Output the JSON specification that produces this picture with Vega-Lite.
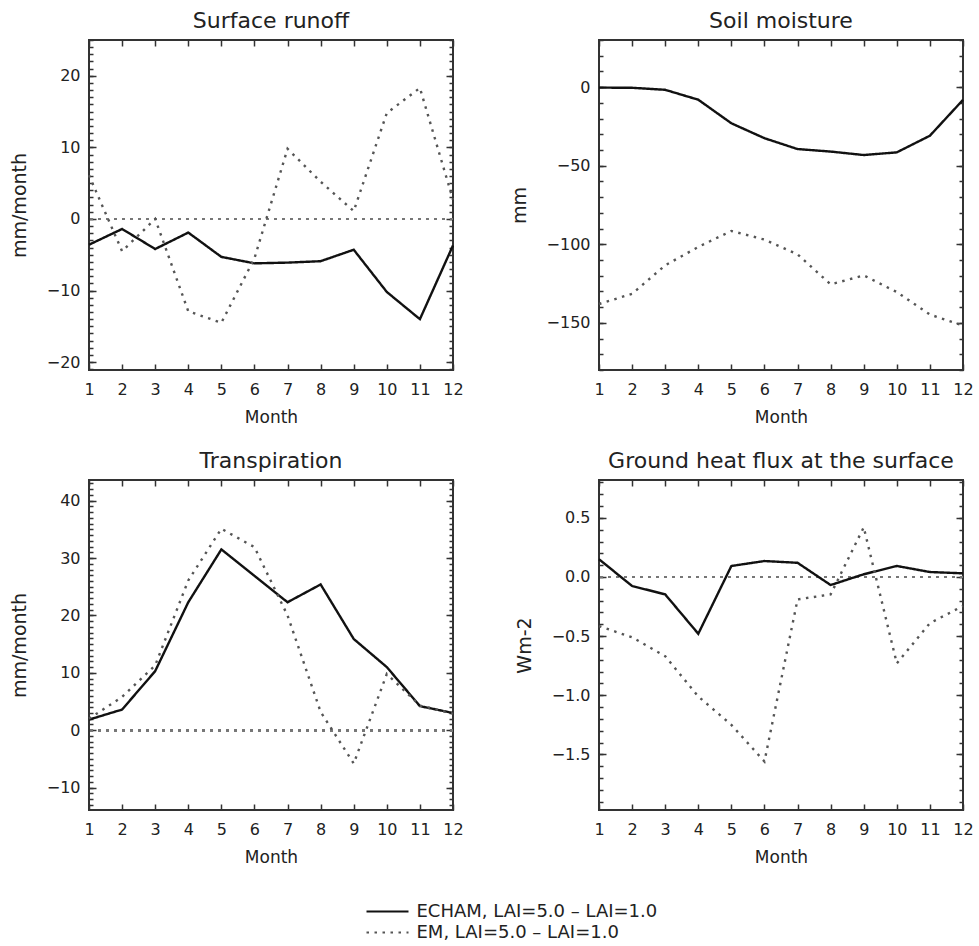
{
"$schema":"https://vega.github.io/schema/vega-lite/v6.json",
"padding":{"left":9,"top":9,"right":5,"bottom":5},
"data":{"values":[
{"p":"a","m":1,"s":"ECHAM","v":-3.6},{"p":"a","m":2,"s":"ECHAM","v":-1.4},{"p":"a","m":3,"s":"ECHAM","v":-4.2},{"p":"a","m":4,"s":"ECHAM","v":-1.9},{"p":"a","m":5,"s":"ECHAM","v":-5.3},{"p":"a","m":6,"s":"ECHAM","v":-6.2},{"p":"a","m":7,"s":"ECHAM","v":-6.1},{"p":"a","m":8,"s":"ECHAM","v":-5.9},{"p":"a","m":9,"s":"ECHAM","v":-4.3},{"p":"a","m":10,"s":"ECHAM","v":-10.2},{"p":"a","m":11,"s":"ECHAM","v":-14.0},{"p":"a","m":12,"s":"ECHAM","v":-3.7},
{"p":"a","m":1,"s":"EM","v":6.1},{"p":"a","m":2,"s":"EM","v":-4.5},{"p":"a","m":3,"s":"EM","v":0.0},{"p":"a","m":4,"s":"EM","v":-12.9},{"p":"a","m":5,"s":"EM","v":-14.5},{"p":"a","m":6,"s":"EM","v":-5.5},{"p":"a","m":7,"s":"EM","v":9.8},{"p":"a","m":8,"s":"EM","v":5.2},{"p":"a","m":9,"s":"EM","v":1.1},{"p":"a","m":10,"s":"EM","v":14.8},{"p":"a","m":11,"s":"EM","v":18.3},{"p":"a","m":12,"s":"EM","v":2.7},
{"p":"b","m":1,"s":"ECHAM","v":-0.3},{"p":"b","m":2,"s":"ECHAM","v":-0.4},{"p":"b","m":3,"s":"ECHAM","v":-1.7},{"p":"b","m":4,"s":"ECHAM","v":-8},{"p":"b","m":5,"s":"ECHAM","v":-23},{"p":"b","m":6,"s":"ECHAM","v":-32.5},{"p":"b","m":7,"s":"ECHAM","v":-39.4},{"p":"b","m":8,"s":"ECHAM","v":-41},{"p":"b","m":9,"s":"ECHAM","v":-43.2},{"p":"b","m":10,"s":"ECHAM","v":-41.5},{"p":"b","m":11,"s":"ECHAM","v":-30.9},{"p":"b","m":12,"s":"ECHAM","v":-8.1},
{"p":"b","m":1,"s":"EM","v":-138},{"p":"b","m":2,"s":"EM","v":-131.5},{"p":"b","m":3,"s":"EM","v":-113.4},{"p":"b","m":4,"s":"EM","v":-101.7},{"p":"b","m":5,"s":"EM","v":-91.5},{"p":"b","m":6,"s":"EM","v":-97},{"p":"b","m":7,"s":"EM","v":-106.4},{"p":"b","m":8,"s":"EM","v":-125.5},{"p":"b","m":9,"s":"EM","v":-119.8},{"p":"b","m":10,"s":"EM","v":-130.4},{"p":"b","m":11,"s":"EM","v":-144.7},{"p":"b","m":12,"s":"EM","v":-151.7},
{"p":"c","m":1,"s":"ECHAM","v":1.85},{"p":"c","m":2,"s":"ECHAM","v":3.6},{"p":"c","m":3,"s":"ECHAM","v":10.3},{"p":"c","m":4,"s":"ECHAM","v":22.3},{"p":"c","m":5,"s":"ECHAM","v":31.5},{"p":"c","m":6,"s":"ECHAM","v":26.9},{"p":"c","m":7,"s":"ECHAM","v":22.3},{"p":"c","m":8,"s":"ECHAM","v":25.4},{"p":"c","m":9,"s":"ECHAM","v":15.9},{"p":"c","m":10,"s":"ECHAM","v":11.0},{"p":"c","m":11,"s":"ECHAM","v":4.2},{"p":"c","m":12,"s":"ECHAM","v":3.0},
{"p":"c","m":1,"s":"EM","v":2.0},{"p":"c","m":2,"s":"EM","v":5.8},{"p":"c","m":3,"s":"EM","v":11.3},{"p":"c","m":4,"s":"EM","v":26.1},{"p":"c","m":5,"s":"EM","v":35.1},{"p":"c","m":6,"s":"EM","v":31.9},{"p":"c","m":7,"s":"EM","v":20.0},{"p":"c","m":8,"s":"EM","v":3.2},{"p":"c","m":9,"s":"EM","v":-5.8},{"p":"c","m":10,"s":"EM","v":9.8},{"p":"c","m":11,"s":"EM","v":4.3},{"p":"c","m":12,"s":"EM","v":2.9},
{"p":"d","m":1,"s":"ECHAM","v":0.15},{"p":"d","m":2,"s":"ECHAM","v":-0.076},{"p":"d","m":3,"s":"ECHAM","v":-0.147},{"p":"d","m":4,"s":"ECHAM","v":-0.48},{"p":"d","m":5,"s":"ECHAM","v":0.093},{"p":"d","m":6,"s":"ECHAM","v":0.135},{"p":"d","m":7,"s":"ECHAM","v":0.12},{"p":"d","m":8,"s":"ECHAM","v":-0.068},{"p":"d","m":9,"s":"ECHAM","v":0.023},{"p":"d","m":10,"s":"ECHAM","v":0.093},{"p":"d","m":11,"s":"ECHAM","v":0.042},{"p":"d","m":12,"s":"ECHAM","v":0.031},
{"p":"d","m":1,"s":"EM","v":-0.415},{"p":"d","m":2,"s":"EM","v":-0.51},{"p":"d","m":3,"s":"EM","v":-0.67},{"p":"d","m":4,"s":"EM","v":-1.01},{"p":"d","m":5,"s":"EM","v":-1.25},{"p":"d","m":6,"s":"EM","v":-1.56},{"p":"d","m":7,"s":"EM","v":-0.19},{"p":"d","m":8,"s":"EM","v":-0.147},{"p":"d","m":9,"s":"EM","v":0.42},{"p":"d","m":10,"s":"EM","v":-0.73},{"p":"d","m":11,"s":"EM","v":-0.39},{"p":"d","m":12,"s":"EM","v":-0.245}
]},
"columns":2,
"spacing":{"row":110,"column":146},
"bounds":"flush",
"concat":[
{
"width":364,"height":330,
"title":"Surface runoff",
"transform":[{"filter":"datum.p==='a'"}],
"layer":[
{"mark":{"type":"rule","color":"#777","strokeDash":[2.5,5.5],"strokeWidth":2},
 "encoding":{"y":{"datum":0,"type":"quantitative","scale":{"domain":[-21.1,25],"nice":false,"zero":false},"axis":null}}},
{"mark":{"type":"line","strokeWidth":2.4},
 "encoding":{
  "x":{"field":"m","type":"quantitative","scale":{"domain":[1,12],"nice":false},"axis":{"orient":"bottom","values":[1,2,3,4,5,6,7,8,9,10,11,12],"format":"d","ticks":false,"labelPadding":11,"title":"Month","titleFontSize":17,"titlePadding":12}},
  "y":{"field":"v","type":"quantitative","scale":{"domain":[-21.1,25],"nice":false,"zero":false},"axis":{"orient":"left","values":[-20,-10,0,10,20],"format":"d","ticks":false,"labelPadding":9,"title":"mm/month","titleFontSize":19,"titlePadding":17}},
  "color":{"field":"s","type":"nominal","title":null,"scale":{"domain":["ECHAM","EM"],"range":["#111111","#555555"]},"legend":{"orient":"none","legendX":287,"legendY":860,"symbolType":"M-2,0H2","symbolSize":441,"symbolStrokeWidth":2,"labelFontSize":18,"labelOffset":17.5,"labelLimit":0,"labelExpr":"datum.label + ', LAI=5.0 – LAI=1.0'","padding":0,"rowPadding":-1,"labelColor":"#222"}},
  "strokeDash":{"field":"s","type":"nominal","title":null,"scale":{"domain":["ECHAM","EM"],"range":[[1,0],[2.5,5.5]]},"legend":{"orient":"none","legendX":287,"legendY":860,"symbolType":"M-2,0H2","symbolSize":441,"symbolStrokeWidth":2,"labelFontSize":18,"labelOffset":17.5,"labelLimit":0,"labelExpr":"datum.label + ', LAI=5.0 – LAI=1.0'","padding":0,"rowPadding":-1,"labelColor":"#222"}}
 }},
{"mark":{"type":"point","opacity":0},
 "encoding":{
  "x":{"field":"m","type":"quantitative","scale":{"domain":[1,12],"nice":false},"axis":{"orient":"top","values":[1,2,3,4,5,6,7,8,9,10,11,12],"offset":-6,"tickSize":6,"labels":false,"title":null}},
  "y":{"field":"v","type":"quantitative","scale":{"domain":[-21.1,25],"nice":false,"zero":false},"axis":{"orient":"right","values":[-20,-10,0,10,20],"offset":-7,"tickSize":7,"labels":false,"title":null}}
 }},
{"mark":{"type":"point","opacity":0},
 "encoding":{
  "x":{"field":"m","type":"quantitative","scale":{"domain":[1,12],"nice":false},"axis":{"orient":"bottom","values":[1,2,3,4,5,6,7,8,9,10,11,12],"offset":-6,"tickSize":6,"labels":false,"title":null}},
  "y":{"field":"v","type":"quantitative","scale":{"domain":[-21.1,25],"nice":false,"zero":false},"axis":{"orient":"left","values":[-21,-20,-19,-18,-17,-16,-15,-14,-13,-12,-11,-10,-9,-8,-7,-6,-5,-4,-3,-2,-1,0,1,2,3,4,5,6,7,8,9,10,11,12,13,14,15,16,17,18,19,20,21,22,23,24,25],"offset":-4,"tickSize":4,"labels":false,"title":null}}
 }},
{"mark":{"type":"point","opacity":0},
 "encoding":{
  "x":{"field":"m","type":"quantitative","scale":{"domain":[1,12],"nice":false},"axis":null},
  "y":{"field":"v","type":"quantitative","scale":{"domain":[-21.1,25],"nice":false,"zero":false},"axis":{"orient":"right","values":[-21,-20,-19,-18,-17,-16,-15,-14,-13,-12,-11,-10,-9,-8,-7,-6,-5,-4,-3,-2,-1,0,1,2,3,4,5,6,7,8,9,10,11,12,13,14,15,16,17,18,19,20,21,22,23,24,25],"offset":-4,"tickSize":4,"labels":false,"title":null}}
 }},
{"mark":{"type":"point","opacity":0},
 "encoding":{
  "x":{"field":"m","type":"quantitative","scale":{"domain":[1,12],"nice":false},"axis":null},
  "y":{"field":"v","type":"quantitative","scale":{"domain":[-21.1,25],"nice":false,"zero":false},"axis":{"orient":"left","values":[-20,-10,0,10,20],"offset":-7,"tickSize":7,"labels":false,"title":null}}
 }}
],
"resolve":{"axis":{"x":"independent","y":"independent"}}
},
{
"width":364,"height":330,
"title":"Soil moisture",
"transform":[{"filter":"datum.p==='b'"}],
"layer":[
{"mark":{"type":"line","strokeWidth":2.4},
 "encoding":{
  "x":{"field":"m","type":"quantitative","scale":{"domain":[1,12],"nice":false},"axis":{"orient":"bottom","values":[1,2,3,4,5,6,7,8,9,10,11,12],"format":"d","ticks":false,"labelPadding":11,"title":"Month","titleFontSize":17,"titlePadding":12}},
  "y":{"field":"v","type":"quantitative","scale":{"domain":[-180,30],"nice":false,"zero":false},"axis":{"orient":"left","values":[-150,-100,-50,0],"format":"d","ticks":false,"labelPadding":9,"title":"mm","titleFontSize":19,"titlePadding":17}},
  "color":{"field":"s","type":"nominal","title":null,"scale":{"domain":["ECHAM","EM"],"range":["#111111","#555555"]},"legend":{"orient":"none","legendX":287,"legendY":860,"symbolType":"M-2,0H2","symbolSize":441,"symbolStrokeWidth":2,"labelFontSize":18,"labelOffset":17.5,"labelLimit":0,"labelExpr":"datum.label + ', LAI=5.0 – LAI=1.0'","padding":0,"rowPadding":-1,"labelColor":"#222"}},
  "strokeDash":{"field":"s","type":"nominal","title":null,"scale":{"domain":["ECHAM","EM"],"range":[[1,0],[2.5,5.5]]},"legend":{"orient":"none","legendX":287,"legendY":860,"symbolType":"M-2,0H2","symbolSize":441,"symbolStrokeWidth":2,"labelFontSize":18,"labelOffset":17.5,"labelLimit":0,"labelExpr":"datum.label + ', LAI=5.0 – LAI=1.0'","padding":0,"rowPadding":-1,"labelColor":"#222"}}
 }},
{"mark":{"type":"point","opacity":0},
 "encoding":{
  "x":{"field":"m","type":"quantitative","scale":{"domain":[1,12],"nice":false},"axis":{"orient":"top","values":[1,2,3,4,5,6,7,8,9,10,11,12],"offset":-6,"tickSize":6,"labels":false,"title":null}},
  "y":{"field":"v","type":"quantitative","scale":{"domain":[-180,30],"nice":false,"zero":false},"axis":{"orient":"right","values":[-150,-100,-50,0],"offset":-7,"tickSize":7,"labels":false,"title":null}}
 }},
{"mark":{"type":"point","opacity":0},
 "encoding":{
  "x":{"field":"m","type":"quantitative","scale":{"domain":[1,12],"nice":false},"axis":{"orient":"bottom","values":[1,2,3,4,5,6,7,8,9,10,11,12],"offset":-6,"tickSize":6,"labels":false,"title":null}},
  "y":{"field":"v","type":"quantitative","scale":{"domain":[-180,30],"nice":false,"zero":false},"axis":{"orient":"left","values":[-180,-170,-160,-150,-140,-130,-120,-110,-100,-90,-80,-70,-60,-50,-40,-30,-20,-10,0,10,20,30],"offset":-4,"tickSize":4,"labels":false,"title":null}}
 }},
{"mark":{"type":"point","opacity":0},
 "encoding":{
  "x":{"field":"m","type":"quantitative","scale":{"domain":[1,12],"nice":false},"axis":null},
  "y":{"field":"v","type":"quantitative","scale":{"domain":[-180,30],"nice":false,"zero":false},"axis":{"orient":"right","values":[-180,-170,-160,-150,-140,-130,-120,-110,-100,-90,-80,-70,-60,-50,-40,-30,-20,-10,0,10,20,30],"offset":-4,"tickSize":4,"labels":false,"title":null}}
 }},
{"mark":{"type":"point","opacity":0},
 "encoding":{
  "x":{"field":"m","type":"quantitative","scale":{"domain":[1,12],"nice":false},"axis":null},
  "y":{"field":"v","type":"quantitative","scale":{"domain":[-180,30],"nice":false,"zero":false},"axis":{"orient":"left","values":[-150,-100,-50,0],"offset":-7,"tickSize":7,"labels":false,"title":null}}
 }}
],
"resolve":{"axis":{"x":"independent","y":"independent"}}
},
{
"width":364,"height":330,
"title":"Transpiration",
"transform":[{"filter":"datum.p==='c'"}],
"layer":[
{"mark":{"type":"rule","color":"#777","strokeDash":[2.5,5.5],"strokeWidth":2},
 "encoding":{"y":{"datum":0,"type":"quantitative","scale":{"domain":[-13.9,43.6],"nice":false,"zero":false},"axis":null}}},
{"mark":{"type":"line","strokeWidth":2.4},
 "encoding":{
  "x":{"field":"m","type":"quantitative","scale":{"domain":[1,12],"nice":false},"axis":{"orient":"bottom","values":[1,2,3,4,5,6,7,8,9,10,11,12],"format":"d","ticks":false,"labelPadding":11,"title":"Month","titleFontSize":17,"titlePadding":12}},
  "y":{"field":"v","type":"quantitative","scale":{"domain":[-13.9,43.6],"nice":false,"zero":false},"axis":{"orient":"left","values":[-10,0,10,20,30,40],"format":"d","ticks":false,"labelPadding":9,"title":"mm/month","titleFontSize":19,"titlePadding":17}},
  "color":{"field":"s","type":"nominal","title":null,"scale":{"domain":["ECHAM","EM"],"range":["#111111","#555555"]},"legend":{"orient":"none","legendX":287,"legendY":860,"symbolType":"M-2,0H2","symbolSize":441,"symbolStrokeWidth":2,"labelFontSize":18,"labelOffset":17.5,"labelLimit":0,"labelExpr":"datum.label + ', LAI=5.0 – LAI=1.0'","padding":0,"rowPadding":-1,"labelColor":"#222"}},
  "strokeDash":{"field":"s","type":"nominal","title":null,"scale":{"domain":["ECHAM","EM"],"range":[[1,0],[2.5,5.5]]},"legend":{"orient":"none","legendX":287,"legendY":860,"symbolType":"M-2,0H2","symbolSize":441,"symbolStrokeWidth":2,"labelFontSize":18,"labelOffset":17.5,"labelLimit":0,"labelExpr":"datum.label + ', LAI=5.0 – LAI=1.0'","padding":0,"rowPadding":-1,"labelColor":"#222"}}
 }},
{"mark":{"type":"point","opacity":0},
 "encoding":{
  "x":{"field":"m","type":"quantitative","scale":{"domain":[1,12],"nice":false},"axis":{"orient":"top","values":[1,2,3,4,5,6,7,8,9,10,11,12],"offset":-6,"tickSize":6,"labels":false,"title":null}},
  "y":{"field":"v","type":"quantitative","scale":{"domain":[-13.9,43.6],"nice":false,"zero":false},"axis":{"orient":"right","values":[-10,0,10,20,30,40],"offset":-7,"tickSize":7,"labels":false,"title":null}}
 }},
{"mark":{"type":"point","opacity":0},
 "encoding":{
  "x":{"field":"m","type":"quantitative","scale":{"domain":[1,12],"nice":false},"axis":{"orient":"bottom","values":[1,2,3,4,5,6,7,8,9,10,11,12],"offset":-6,"tickSize":6,"labels":false,"title":null}},
  "y":{"field":"v","type":"quantitative","scale":{"domain":[-13.9,43.6],"nice":false,"zero":false},"axis":{"orient":"left","values":[-13,-12,-11,-10,-9,-8,-7,-6,-5,-4,-3,-2,-1,0,1,2,3,4,5,6,7,8,9,10,11,12,13,14,15,16,17,18,19,20,21,22,23,24,25,26,27,28,29,30,31,32,33,34,35,36,37,38,39,40,41,42,43],"offset":-4,"tickSize":4,"labels":false,"title":null}}
 }},
{"mark":{"type":"point","opacity":0},
 "encoding":{
  "x":{"field":"m","type":"quantitative","scale":{"domain":[1,12],"nice":false},"axis":null},
  "y":{"field":"v","type":"quantitative","scale":{"domain":[-13.9,43.6],"nice":false,"zero":false},"axis":{"orient":"right","values":[-13,-12,-11,-10,-9,-8,-7,-6,-5,-4,-3,-2,-1,0,1,2,3,4,5,6,7,8,9,10,11,12,13,14,15,16,17,18,19,20,21,22,23,24,25,26,27,28,29,30,31,32,33,34,35,36,37,38,39,40,41,42,43],"offset":-4,"tickSize":4,"labels":false,"title":null}}
 }},
{"mark":{"type":"point","opacity":0},
 "encoding":{
  "x":{"field":"m","type":"quantitative","scale":{"domain":[1,12],"nice":false},"axis":null},
  "y":{"field":"v","type":"quantitative","scale":{"domain":[-13.9,43.6],"nice":false,"zero":false},"axis":{"orient":"left","values":[-10,0,10,20,30,40],"offset":-7,"tickSize":7,"labels":false,"title":null}}
 }}
],
"resolve":{"axis":{"x":"independent","y":"independent"}}
},
{
"width":364,"height":330,
"title":"Ground heat flux at the surface",
"transform":[{"filter":"datum.p==='d'"}],
"layer":[
{"mark":{"type":"rule","color":"#777","strokeDash":[2.5,5.5],"strokeWidth":2},
 "encoding":{"y":{"datum":0,"type":"quantitative","scale":{"domain":[-1.97,0.82],"nice":false,"zero":false},"axis":null}}},
{"mark":{"type":"line","strokeWidth":2.4},
 "encoding":{
  "x":{"field":"m","type":"quantitative","scale":{"domain":[1,12],"nice":false},"axis":{"orient":"bottom","values":[1,2,3,4,5,6,7,8,9,10,11,12],"format":"d","ticks":false,"labelPadding":11,"title":"Month","titleFontSize":17,"titlePadding":12}},
  "y":{"field":"v","type":"quantitative","scale":{"domain":[-1.97,0.82],"nice":false,"zero":false},"axis":{"orient":"left","values":[-1.5,-1,-0.5,0,0.5],"format":".1f","ticks":false,"labelPadding":9,"title":"Wm-2","titleFontSize":19,"titlePadding":17}},
  "color":{"field":"s","type":"nominal","title":null,"scale":{"domain":["ECHAM","EM"],"range":["#111111","#555555"]},"legend":{"orient":"none","legendX":287,"legendY":860,"symbolType":"M-2,0H2","symbolSize":441,"symbolStrokeWidth":2,"labelFontSize":18,"labelOffset":17.5,"labelLimit":0,"labelExpr":"datum.label + ', LAI=5.0 – LAI=1.0'","padding":0,"rowPadding":-1,"labelColor":"#222"}},
  "strokeDash":{"field":"s","type":"nominal","title":null,"scale":{"domain":["ECHAM","EM"],"range":[[1,0],[2.5,5.5]]},"legend":{"orient":"none","legendX":287,"legendY":860,"symbolType":"M-2,0H2","symbolSize":441,"symbolStrokeWidth":2,"labelFontSize":18,"labelOffset":17.5,"labelLimit":0,"labelExpr":"datum.label + ', LAI=5.0 – LAI=1.0'","padding":0,"rowPadding":-1,"labelColor":"#222"}}
 }},
{"mark":{"type":"point","opacity":0},
 "encoding":{
  "x":{"field":"m","type":"quantitative","scale":{"domain":[1,12],"nice":false},"axis":{"orient":"top","values":[1,2,3,4,5,6,7,8,9,10,11,12],"offset":-6,"tickSize":6,"labels":false,"title":null}},
  "y":{"field":"v","type":"quantitative","scale":{"domain":[-1.97,0.82],"nice":false,"zero":false},"axis":{"orient":"right","values":[-1.5,-1,-0.5,0,0.5],"offset":-7,"tickSize":7,"labels":false,"title":null}}
 }},
{"mark":{"type":"point","opacity":0},
 "encoding":{
  "x":{"field":"m","type":"quantitative","scale":{"domain":[1,12],"nice":false},"axis":{"orient":"bottom","values":[1,2,3,4,5,6,7,8,9,10,11,12],"offset":-6,"tickSize":6,"labels":false,"title":null}},
  "y":{"field":"v","type":"quantitative","scale":{"domain":[-1.97,0.82],"nice":false,"zero":false},"axis":{"orient":"left","values":[-1.9,-1.8,-1.7,-1.6,-1.5,-1.4,-1.3,-1.2,-1.1,-1,-0.9,-0.8,-0.7,-0.6,-0.5,-0.4,-0.3,-0.2,-0.1,0,0.1,0.2,0.3,0.4,0.5,0.6,0.7,0.8],"offset":-4,"tickSize":4,"labels":false,"title":null}}
 }},
{"mark":{"type":"point","opacity":0},
 "encoding":{
  "x":{"field":"m","type":"quantitative","scale":{"domain":[1,12],"nice":false},"axis":null},
  "y":{"field":"v","type":"quantitative","scale":{"domain":[-1.97,0.82],"nice":false,"zero":false},"axis":{"orient":"right","values":[-1.9,-1.8,-1.7,-1.6,-1.5,-1.4,-1.3,-1.2,-1.1,-1,-0.9,-0.8,-0.7,-0.6,-0.5,-0.4,-0.3,-0.2,-0.1,0,0.1,0.2,0.3,0.4,0.5,0.6,0.7,0.8],"offset":-4,"tickSize":4,"labels":false,"title":null}}
 }},
{"mark":{"type":"point","opacity":0},
 "encoding":{
  "x":{"field":"m","type":"quantitative","scale":{"domain":[1,12],"nice":false},"axis":null},
  "y":{"field":"v","type":"quantitative","scale":{"domain":[-1.97,0.82],"nice":false,"zero":false},"axis":{"orient":"left","values":[-1.5,-1,-0.5,0,0.5],"offset":-7,"tickSize":7,"labels":false,"title":null}}
 }}
],
"resolve":{"axis":{"x":"independent","y":"independent"}}
}
],
"config":{
 "font":"DejaVu Sans",
 "background":"white",
 "view":{"stroke":"#333333","strokeWidth":2},
 "axis":{"domain":false,"grid":false,"labelFont":"DejaVu Sans","labelFontSize":16,"labelColor":"#222222","titleFont":"DejaVu Sans","titleFontWeight":"normal","titleColor":"#222222","tickColor":"#333333","tickWidth":1.5,"labelFlush":false,"labelOverlap":false},
 "title":{"font":"DejaVu Sans","fontSize":22,"fontWeight":"normal","color":"#222222","offset":6},
 "legend":{"labelFont":"DejaVu Sans"}
}
}
